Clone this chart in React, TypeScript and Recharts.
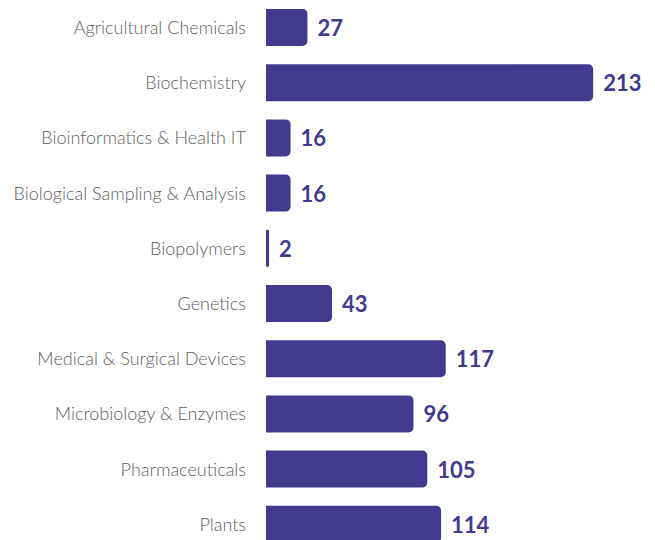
import React from 'react';
import { BarChart, Bar, XAxis, YAxis, LabelList } from 'recharts';

const categories = [
  'Agricultural Chemicals',
  'Biochemistry',
  'Bioinformatics & Health IT',
  'Biological Sampling & Analysis',
  'Biopolymers',
  'Genetics',
  'Medical & Surgical Devices',
  'Microbiology & Enzymes',
  'Pharmaceuticals',
  'Plants',
];
const counts = [27, 213, 16, 16, 2, 43, 117, 96, 105, 114];

const data = categories.map((name, i) => ({ name, count: counts[i] }));

const BAR_COLOR = '#413a8f';

const ValueLabel = (props: any) => {
  const { x, y, width, height, value } = props;
  return (
    <text
      x={x + width + 10}
      y={y + height / 2}
      dominantBaseline="central"
      fill={BAR_COLOR}
      fontFamily="Lato"
      fontWeight={700}
      fontSize={22}
    >
      {value}
    </text>
  );
};

export default function App() {
  return (
    <div style={{ position: 'absolute', left: 0, top: 0 }}>
      <BarChart
        width={655}
        height={552}
        data={data}
        layout="vertical"
        margin={{ top: 0, right: 5, bottom: 0, left: 0 }}
        barCategoryGap={18}
      >
        <XAxis type="number" domain={[0, 250]} hide />
        <YAxis
          type="category"
          dataKey="name"
          width={266}
          axisLine={false}
          tickLine={false}
          tickMargin={14}
          interval={0}
          tick={{ fill: '#606060', fontFamily: 'Lato', fontSize: 18, fontWeight: 300 }}
        />
        <Bar dataKey="count" fill={BAR_COLOR} barSize={37} radius={[0, 5, 5, 0]} isAnimationActive={false}>
          <LabelList dataKey="count" content={ValueLabel} />
        </Bar>
      </BarChart>
    </div>
  );
}
